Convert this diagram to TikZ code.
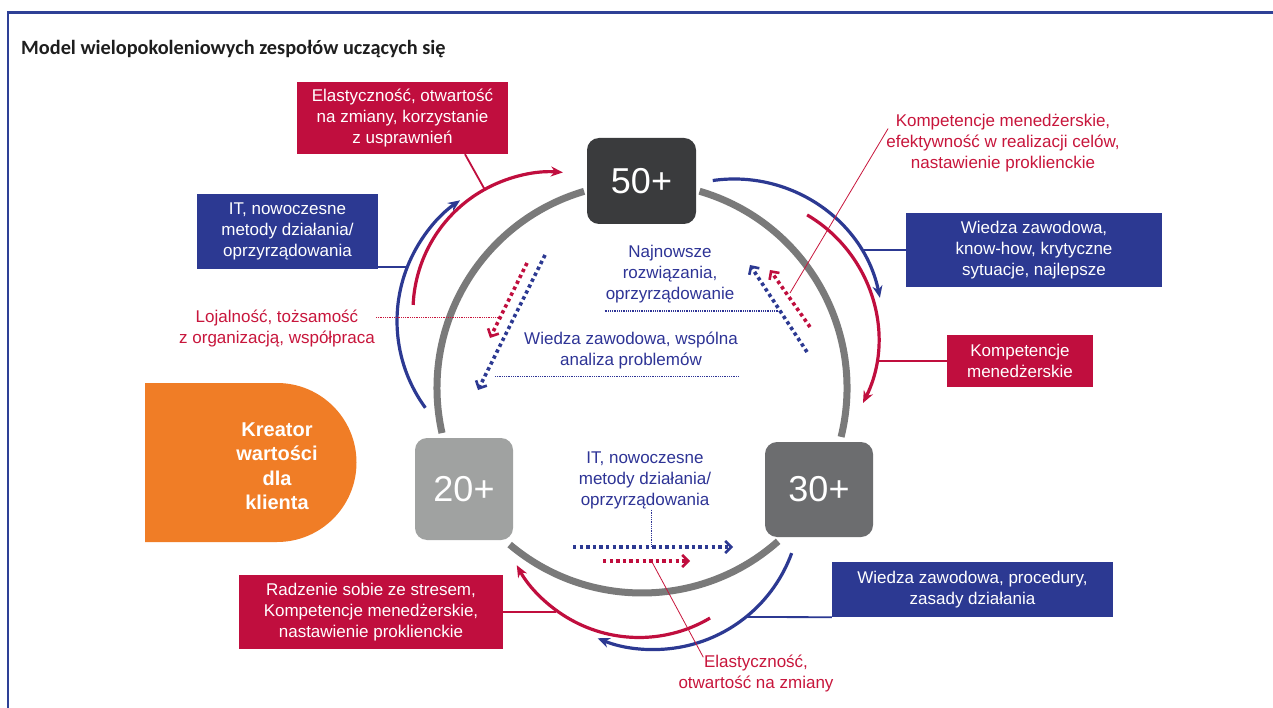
\documentclass[tikz,border=0pt]{standalone}
\usepackage{fontspec}
\setmainfont{Liberation Sans}
\newfontfamily\titlefont{Carlito}
\usetikzlibrary{arrows.meta,calc}

\definecolor{frameblue}{RGB}{46,64,150}
\definecolor{dred}{RGB}{192,14,62}
\definecolor{dblue}{RGB}{44,57,146}
\definecolor{tred}{RGB}{200,22,60}
\definecolor{tblue}{RGB}{46,52,150}
\definecolor{orng}{RGB}{240,125,38}
\definecolor{gfifty}{RGB}{58,59,61}
\definecolor{gtwenty}{RGB}{160,162,161}
\definecolor{gthirty}{RGB}{108,109,111}
\definecolor{ringgray}{RGB}{122,122,122}
\definecolor{titlecol}{RGB}{30,30,30}

\begin{document}
\begin{tikzpicture}[x=1pt,y=-1pt,
  txt/.style={align=center, inner sep=1pt, font=\fontsize{17}{21}\selectfont},
  redbox/.style={txt, fill=dred, text=white, inner sep=0pt},
  bluebox/.style={txt, fill=dblue, text=white, inner sep=0pt},
  agebox/.style={rounded corners=12pt, text=white, inner sep=0pt, font=\fontsize{36}{36}\selectfont},
  redtxt/.style={txt, text=tred},
  bluetxt/.style={txt, text=tblue},
  ring/.style={draw=ringgray, line width=7pt},
  redarc/.style={draw=dred, line width=3.2pt, -{Stealth[length=12pt,width=10pt]}},
  bluearc/.style={draw=dblue, line width=3.2pt, -{Stealth[length=12pt,width=10pt]}},
  reddots/.style={draw=dred, line width=3.6pt, dash pattern=on 3.4pt off 3.2pt, -{Straight Barb[length=6pt,width=12pt,line width=2.6pt]}},
  bluedots/.style={draw=dblue, line width=3.6pt, dash pattern=on 3.4pt off 3.2pt, -{Straight Barb[length=6pt,width=12pt,line width=2.6pt]}},
  redlink/.style={draw=dred, line width=1.8pt},
  bluelink/.style={draw=dblue, line width=1.8pt},
  redfine/.style={draw=tred, line width=0.8pt},
  redfinedot/.style={draw=tred, line width=1pt, dash pattern=on 1pt off 0.8pt},
  bluefinedot/.style={draw=tblue, line width=1pt, dash pattern=on 1pt off 0.8pt},
]
\useasboundingbox (0,0) rectangle (1273,708);
\fill[white] (0,0) rectangle (1273,708);

% frame
\draw[frameblue, line width=2.5pt] (8,708) -- (8,12.5) -- (1273,12.5);

% title
\node[anchor=base west, inner sep=0pt, text=titlecol, font=\titlefont\bfseries\fontsize{20.3}{20.3}\selectfont] (title) at (21,55) {Model wielopokoleniowych zespołów uczących się};

% orange shape
\fill[orng] (145,383) -- (277,383) arc[start angle=-90, end angle=90, radius=79.5] -- (145,542) -- cycle;
\node[text=white, align=center, inner sep=0pt, font=\bfseries\fontsize{20}{24.5}\selectfont] (kreator) at (277,466) {Kreator\\wartości\\dla\\klienta};

% gray ring
\draw[ring] ($(642,388)+(-106.4:205)$) arc[start angle=-106.4, end angle=-192.7, radius=205];
\draw[ring] ($(642,388)+(-229.8:205)$) arc[start angle=-229.8, end angle=-311.6, radius=205];
\draw[ring] ($(642,388)+(13.8:205)$) arc[start angle=13.8, end angle=-73.7, radius=205];

% colored arcs
\draw[bluearc] ($(544,321)+(-216.2:147)$) arc[start angle=-216.2, end angle=-124.8, radius=147];
\draw[redarc] ($(552,311)+(-177.5:139)$) arc[start angle=-177.5, end angle=-85.5, radius=139];
\draw[bluearc] ($(734,328)+(-98.2:149)$) arc[start angle=-98.2, end angle=-11.7, radius=149];
\draw[redarc] ($(734,339)+(-59.5:144)$) arc[start angle=-59.5, end angle=26.4, radius=144];
\draw[redarc] ($(639,498)+(-300.6:139.5)$) arc[start angle=-300.6, end angle=-208.8, radius=139.5];
\draw[bluearc] ($(654,503)+(-340:146.5)$) arc[start angle=-340, end angle=-247.4, radius=146.5];

% connector end points on arcs / arrows
\coordinate (rA) at (485,190);
\coordinate (bA) at (407,267);
\coordinate (bB) at (862,250);
\coordinate (rB) at (877,361);
\coordinate (bC) at (746,617);
\coordinate (rC) at (556,612);
\coordinate (lojB) at (498,317);
\coordinate (njB) at (778,311);
\coordinate (wsA) at (495,376);
\coordinate (kB) at (790,293);
\coordinate (itv) at (651,547);
\coordinate (elv) at (652,562);

% dotted arrows
\coordinate (d1s) at (527,263); \coordinate (d1e) at (490,338);
\coordinate (d2s) at (545,255); \coordinate (d2e) at (478,390);
\coordinate (d3s) at (807,352); \coordinate (d3e) at (750,265);
\coordinate (d4s) at (810,327); \coordinate (d4e) at (770,270);
\coordinate (d5s) at (573,547); \coordinate (d5e) at (733,547);
\coordinate (d6s) at (603,561); \coordinate (d6e) at (690,561);
\draw[reddots] (d1s) -- (d1e);
\draw[bluedots] (d2s) -- (d2e);
\draw[bluedots] (d3s) -- (d3e);
\draw[reddots] (d4s) -- (d4e);
\draw[bluedots] (d5s) -- (d5e);
\draw[reddots] (d6s) -- (d6e);

% boxes
\node[redbox, minimum width=211pt, minimum height=72pt] (redA) at (402.5,118) {Elastyczność, otwartość\\na zmiany, korzystanie\\z usprawnień};
\node[bluebox, minimum width=181pt, minimum height=75pt] (blueA) at (287.5,231.5) {IT, nowoczesne\\metody działania/\\oprzyrządowania};
\node[bluebox, minimum width=256pt, minimum height=74pt] (blueB) at (1034,250) {Wiedza zawodowa,\\know-how, krytyczne\\sytuacje, najlepsze};
\node[redbox, minimum width=146pt, minimum height=52pt] (redB) at (1020,361) {Kompetencje\\menedżerskie};
\node[bluebox, minimum width=281pt, minimum height=55pt] (blueC) at (972.5,589.5) {Wiedza zawodowa, procedury,\\zasady działania};
\node[redbox, minimum width=264pt, minimum height=74pt] (redC) at (371,612) {Radzenie sobie ze stresem,\\Kompetencje menedżerskie,\\nastawienie proklienckie};

% age boxes
\node[agebox, fill=gfifty, minimum width=109pt, minimum height=86pt] (n50) at (641.5,181) {50+};
\node[agebox, fill=gtwenty, minimum width=98pt, minimum height=102pt] (n20) at (464,489) {20+};
\node[agebox, fill=gthirty, minimum width=108pt, minimum height=95pt] (n30) at (819,489.5) {30+};

% free texts
\node[redtxt] (loj) at (277,328.5) {Lojalność, tożsamość\\z organizacją, współpraca};
\node[redtxt] (komp) at (1003,143.5) {Kompetencje menedżerskie,\\efektywność w realizacji celów,\\nastawienie proklienckie};
\node[bluetxt] (najn) at (670,274) {Najnowsze\\rozwiązania,\\oprzyrządowanie};
\node[bluetxt] (wsp) at (631,350.5) {Wiedza zawodowa, wspólna\\analiza problemów};
\node[bluetxt] (itb) at (645,480) {IT, nowoczesne\\metody działania/\\oprzyrządowania};
\node[redtxt] (ela) at (756,673) {Elastyczność,\\otwartość na zmiany};

% box connectors
\draw[redlink] ($(redA.south)+(62.5,0)$) -- (rA);
\draw[bluelink] (blueA.east |- bA) -- (bA);
\draw[bluelink] (blueB.west) -- (bB);
\draw[redlink] (redB.west) -- (rB);
\draw[bluelink] (blueC.south west) -- (bC);
\draw[redlink] (redC.east) -- (rC);

% thin label connectors
\draw[redfinedot] (loj.east |- lojB) -- (lojB);
\draw[bluefinedot] (najn.west |- njB) -- (njB);
\draw[bluefinedot] (wsA) -- (wsA -| wsp.east);
\draw[redfine] ($(komp.west)+(3,-15)$) -- (kB);
\draw[bluefinedot] (itb.south -| itv) -- (itv);
\draw[redfine] (elv) -- ($(ela.north west)+(26,4)$);
\end{tikzpicture}
\end{document}
